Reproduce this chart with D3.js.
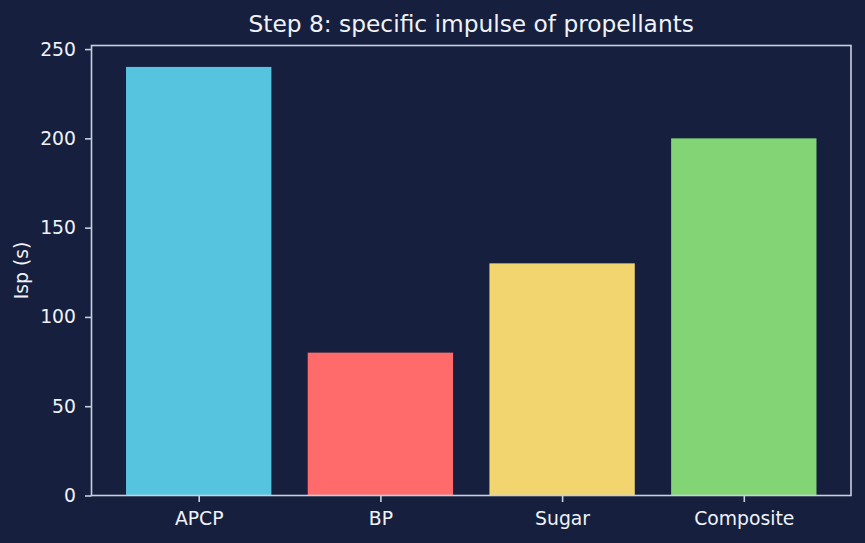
<!DOCTYPE html>
<html>
<head>
<meta charset="utf-8">
<script src="https://cdn.jsdelivr.net/npm/d3@7"></script>
<style>
  html, body { margin: 0; padding: 0; background: #16203e; }
  text { font-family: "DejaVu Sans", sans-serif; }
</style>
</head>
<body>
<script>
// data
var categories = ["APCP", "BP", "Sugar", "Composite"];
var isp = [240, 80, 130, 200];
var barColors = ["#56c4de", "#ff6b6b", "#f2d56e", "#83d475"];
var yTicks = [0, 50, 100, 150, 200, 250];

var W = 865, H = 543;
var margin = {top: 45.5, right: 14, bottom: 47.5, left: 91.5};
var width = W - margin.left - margin.right;
var height = H - margin.top - margin.bottom;
var fg = "#f0f2f8", spine = "#c9cfdd";

var svg = d3.select("body").append("svg")
  .attr("width", W).attr("height", H)
  .style("background", "#16203e");

var g = svg.append("g")
  .attr("transform", "translate(" + margin.left + "," + margin.top + ")");

// matplotlib-like layout: bar width 0.8, 5% margins
var idx = categories.map(function(d, i) { return i; });
var x = d3.scaleLinear().domain([-0.59, categories.length - 1 + 0.59]).range([0, width]);
var y = d3.scaleLinear().domain([0, 252]).range([height, 0]);
var bw = x(0.8) - x(0);

g.selectAll("rect.bar").data(isp).enter().append("rect")
  .attr("class", "bar")
  .attr("x", function(d, i) { return x(i - 0.4); })
  .attr("y", function(d) { return y(d); })
  .attr("width", bw)
  .attr("height", function(d) { return height - y(d); })
  .attr("fill", function(d, i) { return barColors[i]; });

// axes
var xAxis = d3.axisBottom(x).tickValues(idx)
  .tickFormat(function(i) { return categories[i]; })
  .tickSize(6.5).tickPadding(9.5);
var yAxis = d3.axisLeft(y).tickValues(yTicks).tickSize(6.5).tickPadding(9);

var gx = g.append("g").attr("transform", "translate(0," + height + ")").call(xAxis);
var gy = g.append("g").call(yAxis);
[gx, gy].forEach(function(a) {
  a.select(".domain").remove();
  a.selectAll(".tick line").attr("stroke", spine).attr("stroke-width", 1.6);
  a.selectAll(".tick text").attr("fill", fg).style("font-size", "18.8px")
    .style("font-family", "DejaVu Sans, sans-serif");
});

// frame
g.append("rect").attr("x", 0).attr("y", 0).attr("width", width).attr("height", height)
  .attr("fill", "none").attr("stroke", spine).attr("stroke-width", 1.6);

// title and label
svg.append("text")
  .attr("x", margin.left + width / 2).attr("y", 31.5)
  .attr("text-anchor", "middle").attr("fill", fg)
  .style("font-size", "23.3px")
  .text("Step 8: specific impulse of propellants");

svg.append("text")
  .attr("transform", "translate(28," + (margin.top + height / 2) + ") rotate(-90)")
  .attr("text-anchor", "middle").attr("fill", fg)
  .style("font-size", "18.8px")
  .text("Isp (s)");
</script>
</body>
</html>
